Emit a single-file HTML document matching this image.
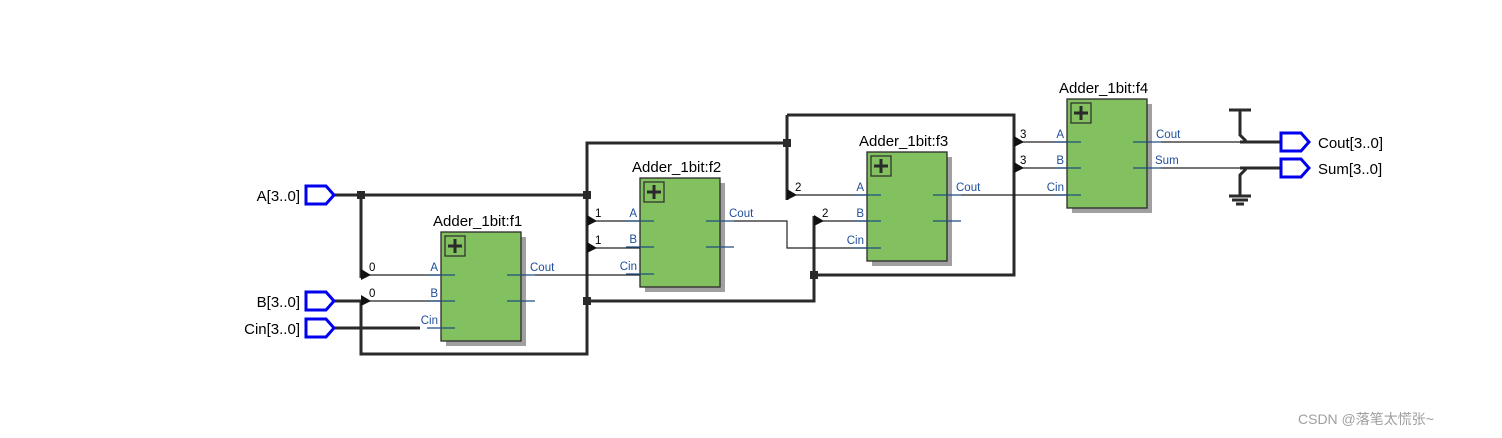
<!DOCTYPE html>
<html><head><meta charset="utf-8"><style>
html,body{margin:0;padding:0;background:#fff;}
svg{display:block;font-family:"Liberation Sans",sans-serif;}
.t{font-size:15px;fill:#000;}
.p{font-size:11.5px;fill:#1f4e9a;}
.n{font-size:11.5px;fill:#000;}
</style></head><body>
<svg width="1502" height="438" viewBox="0 0 1502 438" xmlns="http://www.w3.org/2000/svg">
<defs>
<g id="blk">
  <rect x="5" y="5" width="80" height="109" fill="#a0a0a0"/>
  <rect x="0" y="0" width="80" height="109" fill="#82c060" stroke="#2a2a2a" stroke-width="1.3"/>
  <rect x="4" y="4" width="20" height="20" fill="none" stroke="#2a2a2a" stroke-width="1.2"/>
  <path d="M14 7v14M7 14h14" stroke="#2a2a2a" stroke-width="3"/>
  <g stroke="#1f4e80" stroke-width="1.2">
    <path d="M-14 43h28M-14 69h28M-14 96h28M66 43h28M66 69h28"/>
  </g>
  <text class="p" x="-3" y="39" text-anchor="end">A</text>
  <text class="p" x="-3" y="65" text-anchor="end">B</text>
  <text class="p" x="-3" y="92" text-anchor="end">Cin</text>
  <text class="p" x="89" y="39">Cout</text>
</g>
<path id="arr" d="M0 -6L0 5L10 0Z" fill="#111"/>
</defs>

<g stroke="#2a2a2a" stroke-width="3" fill="none">
  <path d="M335 195H587"/>
  <path d="M361 195V278"/>
  <path d="M335 301H361V354H587V143H787"/>
  <path d="M787 115V200"/>
  <path d="M787 115H1014V275H814"/>
  <path d="M587 301H814V216"/>
  <path d="M335 328H420"/>
  <path d="M1240 142H1280M1240 168H1280"/>
  <path d="M1240 110V135L1246 141M1240 196V175L1246 169"/>
  <path d="M1229 110H1251M1229 196H1251M1232 200H1248M1236 204H1244"/>
</g>
<g fill="#2a2a2a">
  <rect x="357" y="191" width="8" height="8"/>
  <rect x="583" y="191" width="8" height="8"/>
  <rect x="583" y="297" width="8" height="8"/>
  <rect x="783" y="139" width="8" height="8"/>
  <rect x="810" y="271" width="8" height="8"/>
</g>

<g stroke="#222" stroke-width="1.2" fill="none">
  <path d="M361 275H441M361 301H441"/>
  <path d="M587 221H640M587 248H640"/>
  <path d="M787 195H867M814 221H867"/>
  <path d="M1014 142H1067M1014 168H1067"/>
  <path d="M535 275H640"/>
  <path d="M734 221H787V248H867"/>
  <path d="M961 195H1067"/>
  <path d="M1161 142H1240M1161 168H1240"/>
</g>

<use href="#arr" x="361" y="275"/>
<use href="#arr" x="361" y="301"/>
<use href="#arr" x="587" y="221"/>
<use href="#arr" x="587" y="248"/>
<use href="#arr" x="787" y="195"/>
<use href="#arr" x="814" y="221"/>
<use href="#arr" x="1014" y="142"/>
<use href="#arr" x="1014" y="168"/>
<text class="n" x="369" y="271">0</text>
<text class="n" x="369" y="297">0</text>
<text class="n" x="595" y="217">1</text>
<text class="n" x="595" y="244">1</text>
<text class="n" x="795" y="191">2</text>
<text class="n" x="822" y="217">2</text>
<text class="n" x="1020" y="138">3</text>
<text class="n" x="1020" y="164">3</text>

<use href="#blk" x="441" y="232"/>
<text class="t" x="433" y="226">Adder_1bit:f1</text>
<use href="#blk" x="640" y="178"/>
<text class="t" x="632" y="172">Adder_1bit:f2</text>
<use href="#blk" x="867" y="152"/>
<text class="t" x="859" y="146">Adder_1bit:f3</text>
<use href="#blk" x="1067" y="99"/>
<text class="t" x="1059" y="93">Adder_1bit:f4</text>
<text class="p" x="1155" y="164">Sum</text>

<g fill="none" stroke="#0000ee" stroke-width="3">
  <path d="M306 186H326L334 195L326 204H306Z"/>
  <path d="M306 292H326L334 301L326 310H306Z"/>
  <path d="M306 319H326L334 328L326 337H306Z"/>
  <path d="M1281 133H1301L1309 142L1301 151H1281Z"/>
  <path d="M1281 159H1301L1309 168L1301 177H1281Z"/>
</g>
<text class="t" x="300" y="201" text-anchor="end">A[3..0]</text>
<text class="t" x="300" y="307" text-anchor="end">B[3..0]</text>
<text class="t" x="300" y="334" text-anchor="end">Cin[3..0]</text>
<text class="t" x="1318" y="148">Cout[3..0]</text>
<text class="t" x="1318" y="174">Sum[3..0]</text>

<text x="1298" y="424" style="font-size:14px;fill:#a0a0a0;font-family:'Liberation Sans','Noto Sans CJK SC',sans-serif">CSDN @落笔太慌张~</text>
</svg>
</body></html>
